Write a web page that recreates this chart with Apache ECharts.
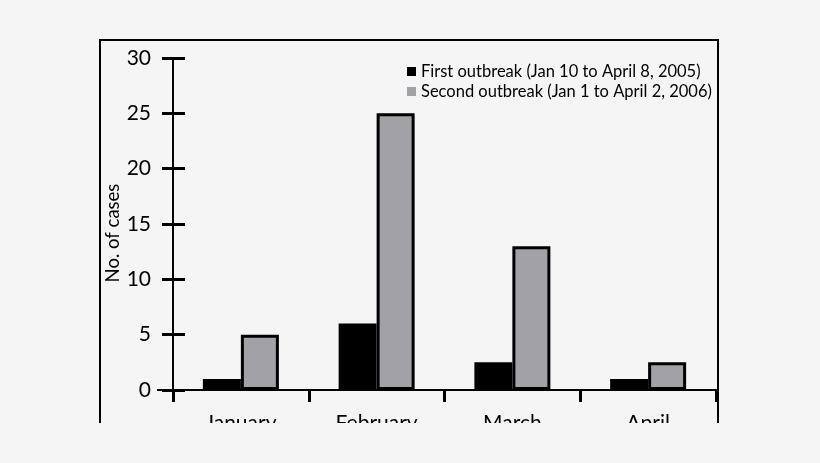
<!DOCTYPE html>
<html>
<head>
<meta charset="utf-8">
<script src="https://cdn.jsdelivr.net/npm/echarts@6/dist/echarts.min.js"></script>
<style>
html, body { margin: 0; padding: 0; background: #f5f5f5; }
#chart { width: 820px; height: 423px; }
</style>
</head>
<body>
<div id="chart"></div>
<script>
var months = ['January', 'February', 'March', 'April'];
var firstOutbreak = [1, 6, 2.5, 1];
var secondOutbreak = [5, 25, 13, 2.5];
var yTicks = [0, 5, 10, 15, 20, 25, 30];
var firstName = 'First outbreak (Jan 10 to April 8, 2005)';
var secondName = 'Second outbreak (Jan 1 to April 2, 2006)';

var font = 'Lato';
var myChart = echarts.init(document.getElementById('chart'));

function yAxisBase(extra) {
    var ax = {
        type: 'value',
        min: yTicks[0],
        max: yTicks[yTicks.length - 1],
        interval: yTicks[1] - yTicks[0],
        splitLine: { show: false }
    };
    for (var k in extra) ax[k] = extra[k];
    return ax;
}

var option = {
    animation: false,
    backgroundColor: '#f5f5f5',
    textStyle: { fontFamily: font },
    grid: { left: 173, right: 104, top: 58, bottom: 33, outerBoundsMode: 'none' },
    legend: {
        orient: 'vertical',
        left: 402,
        top: 58,
        itemGap: 3,
        itemWidth: 9,
        itemHeight: 9,
        icon: 'rect',
        textStyle: { color: '#000', fontSize: 16.5, fontFamily: font },
        data: [
            { name: firstName, itemStyle: { color: '#000', borderWidth: 0 } },
            { name: secondName, itemStyle: { color: '#a2a2a6', borderWidth: 0 } }
        ]
    },
    xAxis: {
        type: 'category',
        data: months,
        axisLine: { lineStyle: { color: '#000', width: 2 } },
        axisTick: { show: true, length: 12, lineStyle: { color: '#000', width: 3 } },
        axisLabel: { color: '#000', fontSize: 21, margin: 23, fontFamily: font }
    },
    yAxis: [
        yAxisBase({
            name: 'No. of cases',
            nameLocation: 'middle',
            nameGap: 50,
            nameMoveOverlap: false,
            nameTextStyle: { color: '#000', fontSize: 18.5, fontFamily: font, padding: [0, 18, 0, 0] },
            axisLine: { show: true, lineStyle: { color: '#000', width: 2 } },
            axisTick: { show: true, length: 11, lineStyle: { color: '#000', width: 3 } },
            axisLabel: { color: '#000', fontSize: 21, margin: 22, fontFamily: font }
        }),
        yAxisBase({
            position: 'left',
            axisLine: { show: false },
            axisTick: { show: true, inside: true, length: 12, lineStyle: { color: '#000', width: 3 } },
            axisLabel: { show: false }
        })
    ],
    graphic: [
        { type: 'line', shape: { x1: 100, y1: 40, x2: 100, y2: 423 }, style: { stroke: '#000', lineWidth: 2 } },
        { type: 'line', shape: { x1: 99, y1: 40, x2: 719, y2: 40 }, style: { stroke: '#000', lineWidth: 2 } },
        { type: 'line', shape: { x1: 718, y1: 40, x2: 718, y2: 423 }, style: { stroke: '#000', lineWidth: 2 } },
        { type: 'line', shape: { x1: 157, y1: 390, x2: 173, y2: 390 }, style: { stroke: '#000', lineWidth: 2 } }
    ],
    series: [
        {
            name: firstName,
            type: 'bar',
            data: firstOutbreak,
            barWidth: 38,
            barGap: '0%',
            itemStyle: { color: '#000' }
        },
        {
            name: secondName,
            type: 'bar',
            data: secondOutbreak,
            barWidth: 38,
            barGap: '0%',
            itemStyle: { color: '#a2a2a6', borderColor: '#000', borderWidth: 3 }
        }
    ]
};

if (option && typeof option === "object") {
    myChart.setOption(option, true);
}
</script>
</body>
</html>
